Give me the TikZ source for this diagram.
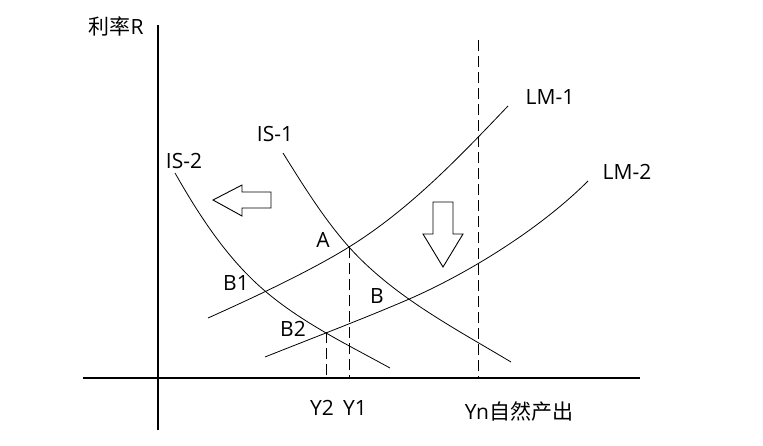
\documentclass[tikz,border=0pt]{standalone}
\usepackage{fontspec}
\setmainfont{Open Sans}
\newfontfamily\cjkfont{Noto Sans CJK SC}
\begin{document}
\begin{tikzpicture}[x=1pt,y=-1pt,
  curve/.style={line width=0.8pt},
  axis/.style={line width=1.1pt},
  guide/.style={line width=0.9pt, dash pattern=on 11pt off 5pt},
  lbl/.style={font=\fontsize{21}{23}\selectfont, inner sep=0pt},
  bigarrow/.style={line width=0.9pt, fill=white}]
\useasboundingbox (0,0) rectangle (763,445);
% axes
\coordinate (ytop) at (158,25);
\coordinate (ybot) at (158,430);
\coordinate (xl) at (83,378);
\coordinate (xr) at (640,378);
\draw[axis] (ytop) -- (ybot);
\draw[axis] (xl) -- (xr);
% key points
\coordinate (A) at (349,247);
\coordinate (B) at (407,300);
\coordinate (B1) at (265,291);
\coordinate (B2) at (326,332);
\coordinate (A0) at (349,378);
\coordinate (B20) at (326,378);
\coordinate (yntop) at (478,40);
\coordinate (yn0) at (478,378);
% curve ends
\coordinate (lm1s) at (208,318);
\coordinate (lm1e) at (508,106);
\coordinate (lm2s) at (265,357);
\coordinate (lm2e) at (588,181);
\coordinate (is1s) at (283,153);
\coordinate (is1e) at (511,362);
\coordinate (is2s) at (175,173);
\coordinate (is2e) at (390,368);
% guides
\draw[guide] (yntop) -- (yn0);
\draw[guide] (A) -- (A0);
\draw[guide] (B2) -- (B20);
% curves
\draw[curve] (lm1s) .. controls (251,298.7) and (309,271.8) .. (A)
  .. controls (409.4,209.6) and (459,157.4) .. (lm1e);
\draw[curve] (lm2s) .. controls (312.3,338.1) and (360.1,320.1) .. (B)
  .. controls (462.1,276.3) and (537,232) .. (lm2e);
\draw[curve] (is1s) .. controls (303.1,185.2) and (323.7,218.6) .. (A)
  .. controls (393,296.2) and (454.4,328.1) .. (is1e);
\draw[curve] (is2s) .. controls (199.5,216) and (227.3,258.9) .. (B1)
  .. controls (302.3,322.8) and (347.1,344.4) .. (is2e);
% shift arrows
\draw[bigarrow] (213,200) -- (242,185) -- (242,192) -- (271,192) -- (271,208) -- (242,208) -- (242,216) -- cycle;
\draw[bigarrow] (443,267) -- (423,234) -- (433,234) -- (433,202) -- (453,202) -- (453,234) -- (463,234) -- cycle;
% labels
\node[lbl] (lr) at (116,26) {{\cjkfont 利率}R};
\node[lbl] (lis1) at (275,134) {IS-1};
\node[lbl] (lis2) at (184,161) {IS-2};
\node[lbl] (llm1) at (550,97) {LM-1};
\node[lbl] (llm2) at (627,172) {LM-2};
\node[lbl] (la) at (323,240) {A};
\node[lbl] (lb) at (377,296) {B};
\node[lbl] (lb1) at (236,283) {B1};
\node[lbl] (lb2) at (293,329) {B2};
\node[lbl] (ly2) at (322,408) {Y2};
\node[lbl] (ly1) at (355,408) {Y1};
\node[lbl] (lyn) at (519,412) {Yn{\cjkfont 自然产出}};
\end{tikzpicture}
\end{document}
